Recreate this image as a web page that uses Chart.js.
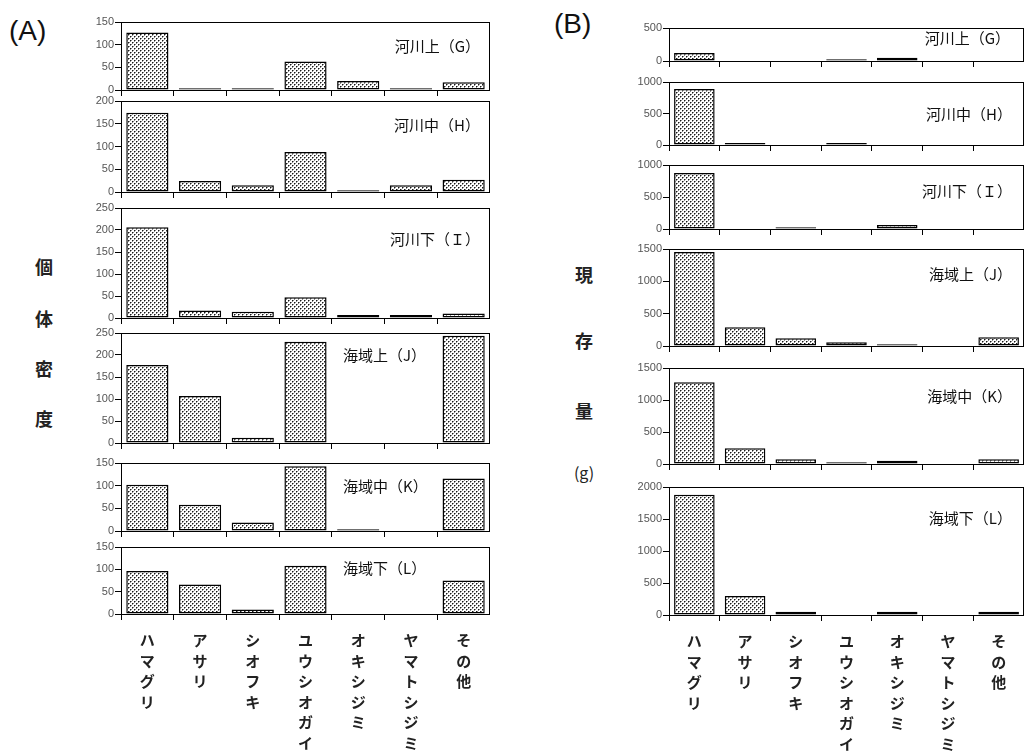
<!DOCTYPE html>
<html>
<head>
<meta charset="utf-8">
<script src="https://cdn.jsdelivr.net/npm/chart.js@4"></script>
<style>
  body { margin: 0; width: 1025px; height: 755px; overflow: hidden; background: #fff; position: relative; font-family: "Noto Sans CJK JP", sans-serif; }
  canvas { position: absolute; }
  .station { position: absolute; font-size: 15px; color: #111; white-space: nowrap; line-height: 1; transform: translateY(-50%); }
  .axis-title { position: absolute; font-size: 18px; font-weight: bold; color: #222; line-height: 1; transform: translate(-50%, -50%); }
  .panel-tag { position: absolute; font-family: "Liberation Sans", Arial, sans-serif; font-size: 28px; color: #111; line-height: 1; }
</style>
</head>
<body>
<div class="panel-tag" style="left:9px; top:17px;">(A)</div>
<div class="panel-tag" style="left:554px; top:10px;">(B)</div>

<div class="axis-title" style="left:44px; top:266px;">個</div>
<div class="axis-title" style="left:44px; top:318px;">体</div>
<div class="axis-title" style="left:44px; top:368px;">密</div>
<div class="axis-title" style="left:44px; top:418px;">度</div>

<div class="axis-title" style="left:584px; top:274px;">現</div>
<div class="axis-title" style="left:584px; top:340px;">存</div>
<div class="axis-title" style="left:584px; top:410px;">量</div>
<div class="axis-title" style="left:584px; top:472px; font-size:16px; font-weight:normal;">(g)</div>

<script>
  const categories = ["ハマグリ", "アサリ", "シオフキ", "ユウシオガイ", "オキシジミ", "ヤマトシジミ", "その他"];
  const stations = ["河川上（G）", "河川中（H）", "河川下（Ｉ）", "海域上（J）", "海域中（K）", "海域下（L）"];

  // (A) 個体密度
  const densityG = [127, 4, 4, 63, 20, 4, 17];
  const densityH = [174, 24, 15, 88, 4, 15, 27];
  const densityI = [206, 17, 14, 47, 7, 7, 10];
  const densityJ = [177, 107, 12, 230, 0, 0, 244];
  const densityK = [102, 58, 19, 143, 4, 0, 116];
  const densityL = [96, 66, 10, 108, 0, 0, 75];
  const densityMax = [150, 200, 250, 250, 150, 150];

  // (B) 現存量 (g)
  const biomassG = [120, 0, 0, 26, 50, 0, 0];
  const biomassH = [889, 32, 0, 32, 0, 0, 0];
  const biomassI = [875, 0, 26, 0, 62, 0, 0];
  const biomassJ = [1453, 290, 119, 57, 26, 0, 134];
  const biomassK = [1276, 245, 73, 26, 52, 0, 73];
  const biomassL = [1880, 295, 50, 0, 50, 0, 50];
  const biomassMax = [500, 1000, 1000, 1500, 1500, 2000];

  // chart area boxes in page pixels
  const boxesA = [
    { top: 22, bottom: 90 }, { top: 101, bottom: 192 }, { top: 208, bottom: 318 },
    { top: 333, bottom: 443 }, { top: 463, bottom: 531 }, { top: 547, bottom: 614 }
  ];
  const boxesB = [
    { top: 28, bottom: 61 }, { top: 82, bottom: 145 }, { top: 165, bottom: 229 },
    { top: 249, bottom: 346 }, { top: 368, bottom: 464 }, { top: 487, bottom: 615 }
  ];
  const labelPosA = [
    { right: 545, y: 45 }, { right: 545, y: 124 }, { right: 545, y: 238 },
    { left: 343, y: 354 }, { left: 343, y: 485 }, { left: 343, y: 567 }
  ];
  const labelPosB = [
    { right: 15, y: 37 }, { right: 13, y: 113 }, { right: 13, y: 190 },
    { right: 13, y: 273 }, { right: 13, y: 395 }, { right: 13, y: 517 }
  ];

  // staggered stipple fill like the print
  function makeDots() {
    const c = document.createElement("canvas");
    c.width = 4;
    c.height = 4;
    const g = c.getContext("2d");
    g.fillStyle = "#fff";
    g.fillRect(0, 0, 4, 4);
    g.fillStyle = "#8a8a8a";
    g.fillRect(1, 0, 1, 1);
    g.fillRect(0, 1, 1, 1);
    g.fillRect(3, 2, 1, 1);
    g.fillRect(2, 3, 1, 1);
    g.fillStyle = "#1a1a1a";
    g.fillRect(0, 0, 1, 1);
    g.fillRect(2, 2, 1, 1);
    return g.createPattern(c, "repeat");
  }
  const dots = makeDots();

  const frame = {
    id: "frame",
    afterDraw(chart) {
      const a = chart.chartArea;
      const ctx = chart.ctx;
      ctx.save();
      ctx.strokeStyle = "#000";
      ctx.lineWidth = 1;
      ctx.strokeRect(a.left + 0.5, a.top + 0.5, a.right - a.left - 1, a.bottom - a.top);
      ctx.restore();
    }
  };

  function makePanel(values, max, box, canvasLeft, plotLeft, plotRight, isBottom) {
    const xh = isBottom ? 755 - box.bottom : 8;
    const canvas = document.createElement("canvas");
    canvas.width = plotRight - canvasLeft;
    canvas.height = box.bottom - box.top + 8 + xh;
    canvas.style.left = canvasLeft + "px";
    canvas.style.top = box.top - 8 + "px";
    document.body.appendChild(canvas);

    new Chart(canvas.getContext("2d"), {
      type: "bar",
      data: {
        labels: isBottom ? categories.map((c) => c.split("")) : categories,
        datasets: [{
          data: values,
          backgroundColor: dots,
          borderColor: "#000",
          borderWidth: 1.5,
          borderSkipped: false,
          barPercentage: 0.8,
          categoryPercentage: 1
        }]
      },
      options: {
        responsive: false,
        animation: false,
        events: [],
        layout: { autoPadding: false, padding: { top: 8, left: 0, right: 0, bottom: 0 } },
        plugins: { legend: { display: false }, tooltip: { enabled: false } },
        scales: {
          x: {
            grid: { drawOnChartArea: false, drawTicks: true, tickLength: 6, color: "#000", offset: true },
            border: { color: "#000", width: 1 },
            ticks: {
              display: isBottom,
              autoSkip: false,
              maxRotation: 0,
              minRotation: 0,
              padding: 10,
              color: "#222",
              font: { family: "Noto Sans CJK JP", size: 15, weight: "bold", lineHeight: 1.37 }
            },
            afterFit: (s) => { s.height = xh; }
          },
          y: {
            min: 0,
            max: max,
            ticks: {
              stepSize: max <= 250 ? 50 : 500,
              color: "#555",
              padding: 1,
              font: { family: "Liberation Sans", size: 11 },
              callback: (v) => String(v)
            },
            grid: { drawOnChartArea: false, tickLength: 6, color: "#000" },
            border: { color: "#000", width: 1 },
            afterFit: (s) => { s.width = plotLeft - canvasLeft; }
          }
        }
      },
      plugins: [frame]
    });
  }

  function addStation(text, pos) {
    const d = document.createElement("div");
    d.className = "station";
    d.textContent = text;
    d.style.top = pos.y + "px";
    if (pos.left !== undefined) d.style.left = pos.left + "px";
    else d.style.right = pos.right + "px";
    document.body.appendChild(d);
  }

  const densitySets = [densityG, densityH, densityI, densityJ, densityK, densityL];
  const biomassSets = [biomassG, biomassH, biomassI, biomassJ, biomassK, biomassL];

  densitySets.forEach((vals, i) => {
    makePanel(vals, densityMax[i], boxesA[i], 60, 121, 490, i === 5);
    addStation(stations[i], labelPosA[i]);
  });
  biomassSets.forEach((vals, i) => {
    makePanel(vals, biomassMax[i], boxesB[i], 610, 669, 1024, i === 5);
    addStation(stations[i], labelPosB[i]);
  });
</script>
</body>
</html>
